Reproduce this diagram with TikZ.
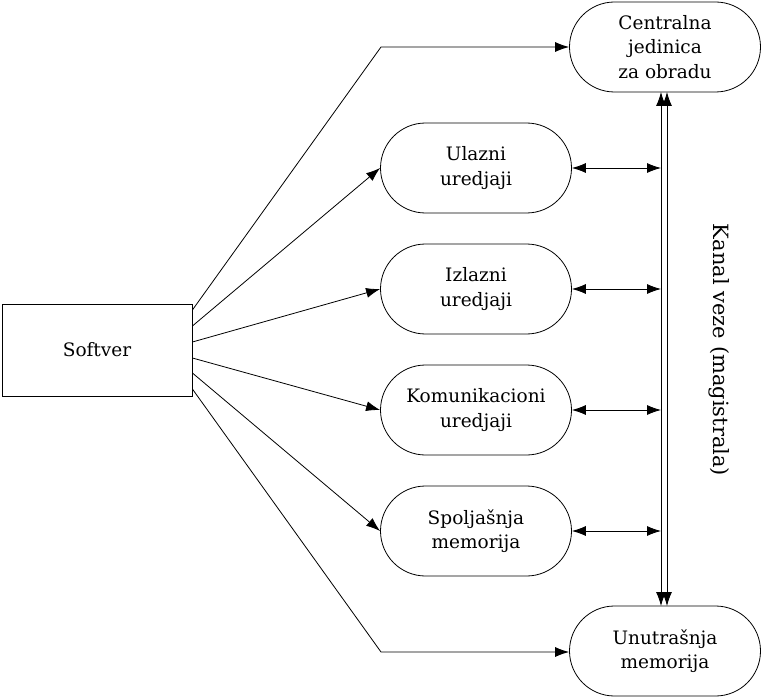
\documentclass[tikz,border=0pt]{standalone}
\usepackage{fontspec}
\setmainfont{DejaVu Serif}
\usetikzlibrary{shapes.misc,arrows.meta,calc}
\begin{document}
\begin{tikzpicture}[x=1pt,y=-1pt,
  every node/.style={font=\fontsize{18.5}{24.5}\selectfont},
  stadium/.style={draw,line width=0.8pt,rounded rectangle,minimum width=191pt,minimum height=90pt,align=center,inner sep=0pt},
  softbox/.style={draw,line width=0.8pt,rectangle,minimum width=190pt,minimum height=92pt},
  conn/.style={line width=0.8pt,-{Latex[length=14pt,width=10pt]}},
  dconn/.style={line width=0.8pt,{Latex[length=14pt,width=10pt]}-{Latex[length=14pt,width=10pt]}}]
\useasboundingbox (0,0) rectangle (761,698);
\node[softbox] (soft) at (97,350) {Softver};
\node[stadium] (cpu) at (665,47) {Centralna\\jedinica\\za obradu};
\node[stadium] (in) at (476,168) {Ulazni\\uredjaji};
\node[stadium] (out) at (476,289) {Izlazni\\uredjaji};
\node[stadium] (com) at (476,410) {Komunikacioni\\uredjaji};
\node[stadium] (ext) at (476,531) {Spolja\v{s}nja\\memorija};
\node[stadium] (ram) at (665,651) {Unutra\v{s}nja\\memorija};
\node[rotate=-90,font=\fontsize{21}{25}\selectfont] (bus) at (719,350) {Kanal veze (magistrala)};
% bus lines
\coordinate (bL1) at (661,92);
\coordinate (bL2) at (661,606);
\coordinate (bR1) at (667,92);
\coordinate (bR2) at (667,606);
\draw[dconn] (bL1) -- (bL2);
\draw[dconn] (bR1) -- (bR2);
% box to bus
\foreach \n in {in,out,com,ext} {
  \draw[dconn] (\n.east) -- (\n.east -| bL1);
}
% softver connectors
\coordinate (s1) at ($(soft.east)+(0,-40)$);
\coordinate (s2) at ($(soft.east)+(0,-24)$);
\coordinate (s3) at ($(soft.east)+(0,-8)$);
\coordinate (s4) at ($(soft.east)+(0,8)$);
\coordinate (s5) at ($(soft.east)+(0,23)$);
\coordinate (s6) at ($(soft.east)+(0,39)$);
\coordinate (e1) at (381,47);
\coordinate (e6) at (381,652);
\draw[conn] (s1) -- (e1) -- (cpu.west);
\draw[conn] (s2) -- (in.west);
\draw[conn] (s3) -- (out.west);
\draw[conn] (s4) -- (com.west);
\draw[conn] (s5) -- (ext.west);
\draw[conn] (s6) -- (e6) -- (e6 -| ram.west);
\end{tikzpicture}
\end{document}
